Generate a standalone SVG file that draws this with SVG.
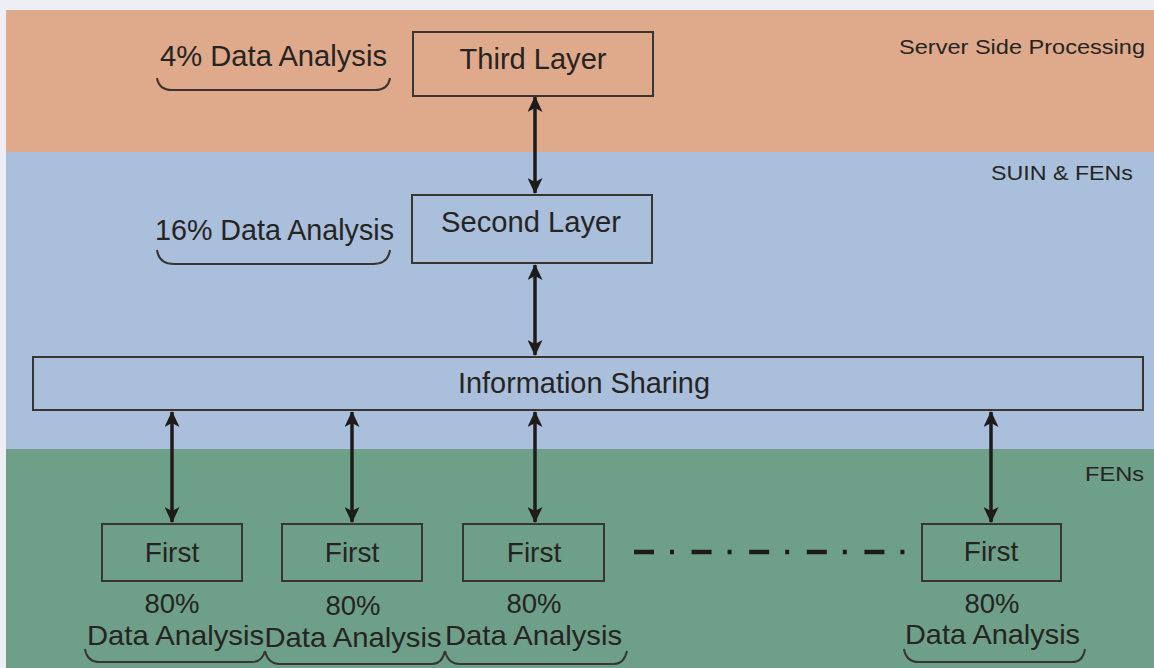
<svg xmlns="http://www.w3.org/2000/svg" width="1154" height="668" viewBox="0 0 1154 668">
<defs>
<style>
.t{font-family:"Liberation Sans",Arial,sans-serif;fill:#262422;}
.box{fill:none;stroke:#3a3531;stroke-width:2;}
.arr{stroke:#1f1b1b;stroke-width:3.5;fill:none;marker-start:url(#ah);marker-end:url(#ah);}
.brace{fill:none;stroke:#3a3531;stroke-width:2;}
</style>
<marker id="ah" markerUnits="userSpaceOnUse" markerWidth="16" markerHeight="15" viewBox="0 0 16 15" refX="15" refY="7.5" orient="auto-start-reverse">
<path d="M0,0 L16,7.5 L0,15 L4,7.5 z" fill="#1f1b1b"/>
</marker>
</defs>
<g id="background">
<rect x="0" y="0" width="1154" height="668" fill="#eeeef5"/>
<rect x="6" y="10" width="1148" height="142" fill="#dfa98b"/>
<rect x="6" y="152" width="1148" height="297" fill="#a9bfdb"/>
<rect x="6" y="449" width="1148" height="219" fill="#6e9f89"/>
</g>
<g id="zone-labels">
<text class="t" x="1145" y="54" font-size="21" text-anchor="end" textLength="246" lengthAdjust="spacingAndGlyphs">Server Side Processing</text>
<text class="t" x="1133" y="180" font-size="21" text-anchor="end" textLength="142" lengthAdjust="spacingAndGlyphs">SUIN &amp; FENs</text>
<text class="t" x="1144" y="481" font-size="21" text-anchor="end" textLength="59" lengthAdjust="spacingAndGlyphs">FENs</text>
</g>
<g id="connectors">
<line class="arr" x1="535" y1="97" x2="535" y2="193"/>
<line class="arr" x1="535" y1="265" x2="535" y2="355"/>
<line class="arr" x1="172" y1="412" x2="172" y2="522"/>
<line class="arr" x1="352" y1="412" x2="352" y2="522"/>
<line class="arr" x1="535" y1="412" x2="535" y2="522"/>
<line class="arr" x1="991" y1="412" x2="991" y2="522"/>
<line x1="634" y1="552" x2="906" y2="552" stroke="#1f1b1b" stroke-width="4.5" stroke-dasharray="20 16 4 17.6"/>
</g>
<g id="third-layer">
<rect class="box" x="413" y="32" width="240" height="64"/>
<text class="t" x="533" y="69" font-size="29" text-anchor="middle" textLength="147" lengthAdjust="spacingAndGlyphs">Third Layer</text>
<text class="t" x="160" y="66" font-size="29" textLength="227" lengthAdjust="spacingAndGlyphs">4% Data Analysis</text>
<path class="brace" d="M157,78 Q159,90 172,90 L375,90 Q388,90 390,78"/>
</g>
<g id="second-layer">
<rect class="box" x="412" y="195" width="240" height="68"/>
<text class="t" x="531" y="232" font-size="29" text-anchor="middle" textLength="180" lengthAdjust="spacingAndGlyphs">Second Layer</text>
<text class="t" x="155" y="240" font-size="29" textLength="239" lengthAdjust="spacingAndGlyphs">16% Data Analysis</text>
<path class="brace" d="M157,250 Q159,264 174,264 L373,264 Q388,264 390,250"/>
</g>
<g id="information-sharing">
<rect class="box" x="33" y="357" width="1110" height="53"/>
<text class="t" x="584" y="393" font-size="29" text-anchor="middle" textLength="252" lengthAdjust="spacingAndGlyphs">Information Sharing</text>
</g>
<g id="first-1">
<rect class="box" x="102" y="524" width="140" height="57"/>
<text class="t" x="172" y="562" font-size="28" text-anchor="middle">First</text>
<text class="t" x="172" y="613" font-size="28" text-anchor="middle" textLength="55" lengthAdjust="spacingAndGlyphs">80%</text>
<text class="t" x="175.5" y="645" font-size="28" text-anchor="middle" textLength="177" lengthAdjust="spacingAndGlyphs">Data Analysis</text>
<path class="brace" d="M85,649 Q87,662 100,662 L252,662 Q262,662 265,651"/>
</g>
<g id="first-2">
<rect class="box" x="282" y="524" width="140" height="57"/>
<text class="t" x="352" y="562" font-size="28" text-anchor="middle">First</text>
<text class="t" x="353" y="615" font-size="28" text-anchor="middle" textLength="55" lengthAdjust="spacingAndGlyphs">80%</text>
<text class="t" x="353" y="647" font-size="28" text-anchor="middle" textLength="177" lengthAdjust="spacingAndGlyphs">Data Analysis</text>
<path class="brace" d="M265,651 Q268,664 280,664 L432,664 Q442,664 445,651"/>
</g>
<g id="first-3">
<rect class="box" x="463" y="524" width="141" height="57"/>
<text class="t" x="534" y="562" font-size="28" text-anchor="middle">First</text>
<text class="t" x="534" y="613" font-size="28" text-anchor="middle" textLength="55" lengthAdjust="spacingAndGlyphs">80%</text>
<text class="t" x="533.5" y="645" font-size="28" text-anchor="middle" textLength="177" lengthAdjust="spacingAndGlyphs">Data Analysis</text>
<path class="brace" d="M445,651 Q448,664 460,664 L614,664 Q624,664 627,651"/>
</g>
<g id="first-4">
<rect class="box" x="922" y="524" width="139" height="57"/>
<text class="t" x="991" y="561" font-size="28" text-anchor="middle">First</text>
<text class="t" x="992" y="613" font-size="28" text-anchor="middle" textLength="55" lengthAdjust="spacingAndGlyphs">80%</text>
<text class="t" x="992.5" y="644" font-size="28" text-anchor="middle" textLength="175" lengthAdjust="spacingAndGlyphs">Data Analysis</text>
<path class="brace" d="M904,649 Q906,662 919,662 L1072,662 Q1083,662 1085,649"/>
</g>
</svg>
